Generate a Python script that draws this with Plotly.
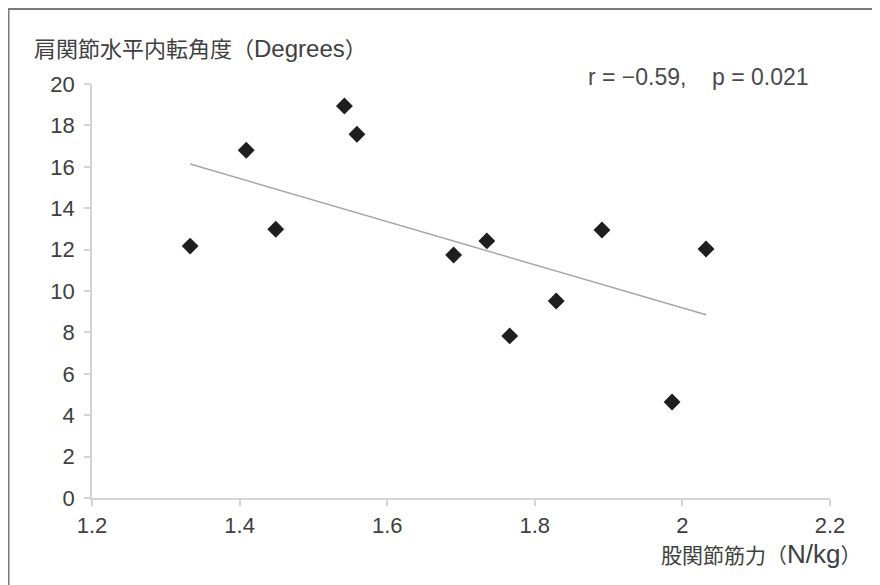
import numpy as np
import plotly.graph_objects as go

# Data
hip_strength = [1.333, 1.409, 1.449, 1.542, 1.559, 1.690, 1.735, 1.766, 1.829, 1.891, 1.986, 2.032]
shoulder_angle = [12.17, 16.80, 12.98, 18.94, 17.57, 11.74, 12.42, 7.83, 9.52, 12.95, 4.64, 12.03]
x_ticks = [1.2, 1.4, 1.6, 1.8, 2.0, 2.2]
x_tick_labels = ["1.2", "1.4", "1.6", "1.8", "2", "2.2"]
y_ticks = [0, 2, 4, 6, 8, 10, 12, 14, 16, 18, 20]

CJK = "Noto Sans CJK JP"
LAT = "Liberation Sans"

def cj(s, size=22):
    return f'<span style="font-family:{CJK};font-size:{size}px">{s}</span>'

def la(s, size=23):
    return f'<span style="font-family:{LAT};font-size:{size}px">{s}</span>'

y_title = cj("肩関節水平内転角度（") + la("Degrees", 24) + cj("）")
x_title = cj("股関節筋力（", 21) + la("N/kg", 26) + cj("）", 21)
stat_text = "r = −0.59,    p = 0.021"

# page offset caused by default body margin
OFF = 8
W, H = 880 - OFF, 585 - OFF
L, R, T, B = 92 - OFF, 50, 84 - OFF, 585 - 497.7
pw, ph = W - L - R, H - T - B

def px(x):
    return (x - OFF - L) / pw

def py(y):
    return (H - B - (y - OFF)) / ph

# Linear regression trend line
slope, intercept = np.polyfit(hip_strength, shoulder_angle, 1)
tx = np.array([min(hip_strength), max(hip_strength)])
ty = slope * tx + intercept

TXT = "#404040"
AX = "#d4d4d4"

fig = go.Figure()
fig.add_trace(go.Scatter(x=tx, y=ty, mode="lines",
                         line=dict(color="#a6a6a6", width=1.5),
                         hoverinfo="skip", showlegend=False))
fig.add_trace(go.Scatter(x=hip_strength, y=shoulder_angle, mode="markers",
                         marker=dict(symbol="diamond", size=13, color="#1e1e1e",
                                     line=dict(width=0)),
                         showlegend=False))

tickfont = dict(size=22, color=TXT, family=LAT)
fig.update_layout(
    width=W, height=H,
    margin=dict(l=L, r=R, t=T, b=B, autoexpand=False),
    paper_bgcolor="white", plot_bgcolor="white",
    font=dict(family=LAT, size=22, color=TXT),
    xaxis=dict(range=[1.2, 2.2], tickvals=x_ticks, ticktext=x_tick_labels,
               showgrid=False, zeroline=False, showline=True, linecolor=AX, linewidth=1.5,
               ticks="outside", ticklen=6, tickcolor=AX, tickwidth=1.5,
               tickfont=tickfont, ticklabelstandoff=1),
    yaxis=dict(range=[0, 20], tickvals=y_ticks,
               showgrid=False, zeroline=False, showline=True, linecolor=AX, linewidth=1.5,
               ticks="outside", ticklen=6, tickcolor=AX, tickwidth=1.5,
               tickfont=tickfont, ticklabelstandoff=5),
    annotations=[
        dict(text=y_title, xref="paper", yref="paper", x=px(32), y=py(47),
             xanchor="left", yanchor="middle", showarrow=False,
             font=dict(size=22, color=TXT, family=CJK)),
        dict(text=x_title, xref="paper", yref="paper", x=px(659), y=py(554),
             xanchor="left", yanchor="middle", showarrow=False,
             font=dict(size=21, color=TXT, family=CJK)),
        dict(text=stat_text, xref="paper", yref="paper", x=px(698), y=py(77),
             xanchor="center", yanchor="middle", showarrow=False,
             font=dict(size=23, color="#4a4a4a", family=LAT)),
    ],
    shapes=[
        dict(type="line", xref="paper", yref="paper", x0=px(7), x1=px(880), y0=py(9), y1=py(9),
             line=dict(color="#7a7a7a", width=2)),
        dict(type="line", xref="paper", yref="paper", x0=px(8), x1=px(8), y0=py(9), y1=py(585),
             line=dict(color="#7a7a7a", width=3)),
    ],
)

fig.write_html("out.html")
